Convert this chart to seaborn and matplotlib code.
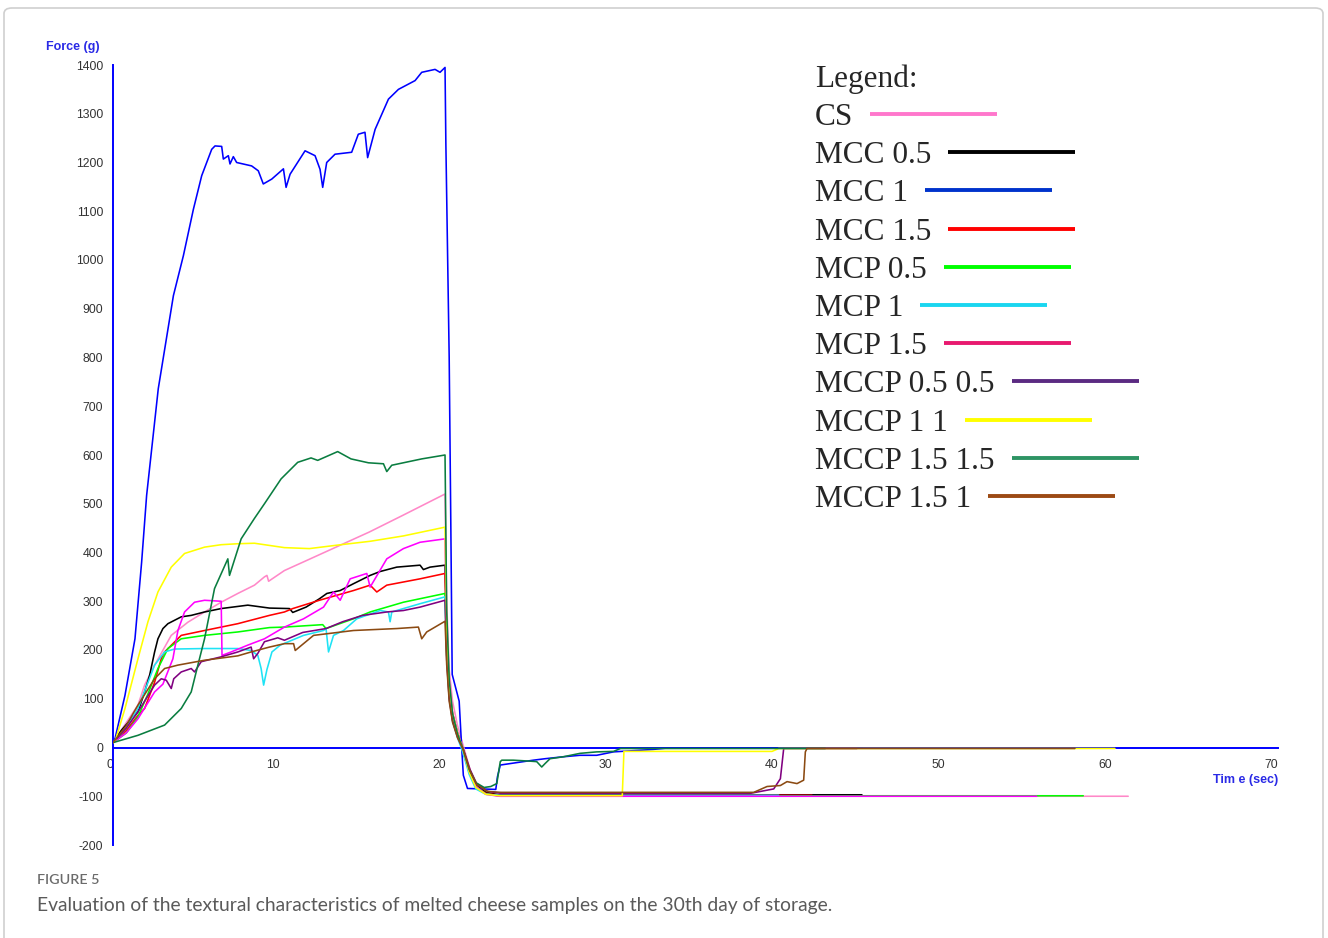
import numpy as np
import pandas as pd
import matplotlib
matplotlib.use("Agg")
import matplotlib.pyplot as plt
import seaborn as sns
from matplotlib.lines import Line2D
from matplotlib.patches import FancyBboxPatch

# ---------------- data ----------------
series_names = ["CS", "MCC 0.5", "MCC 1", "MCC 1.5", "MCP 0.5", "MCP 1", "MCP 1.5",
                "MCCP 0.5 0.5", "MCCP 1 1", "MCCP 1.5 1.5", "MCCP 1.5 1"]

cs_t = [0, 0.7, 1.5, 1.9, 2.5, 3.5, 4.5, 5.5, 6.5, 7.5, 8.5, 9.1, 9.25, 9.35, 10.3, 11.4, 13.4, 15.4, 17.4, 19.95,
        20.05, 20.2, 20.4, 20.7, 21.05, 21.45, 21.85, 22.45, 23.3, 61.0]
cs_f = [10, 46, 87, 128, 169, 230, 257, 278, 298, 316, 333, 350, 353, 341, 363, 380, 411, 442, 476, 520,
        300, 160, 95, 45, 3, -45, -78, -95, -100, -100]

mcc05_t = [0, 0.5, 1.1, 1.5, 1.9, 2.2, 2.5, 2.7, 3.0, 3.3, 4.1, 4.7, 5.5, 6.5, 8.1, 9.4, 10.6, 10.8, 11.6, 12.4,
           12.85, 13.65, 14.45, 15.45, 16.05, 17.05, 18.45, 18.65, 19.05, 19.95,
           20.05, 20.2, 20.4, 20.7, 21.0, 21.4, 21.8, 22.4, 23.2, 45.0]
mcc05_f = [10, 35, 59, 73, 114, 148, 196, 223, 244, 254, 268, 271, 278, 285, 292, 286, 285, 277, 288, 305,
           316, 322, 336, 353, 361, 370, 374, 365, 370, 374,
           220, 120, 70, 30, 0, -45, -75, -92, -97, -97]

mcc1_t = [0, 0.12, 0.72, 1.32, 1.72, 2.02, 2.72, 3.63, 4.23, 4.83, 5.33, 5.93, 6.13, 6.53, 6.63, 6.93, 7.03,
          7.23, 7.43, 8.33, 8.73, 9.03, 9.54, 10.24, 10.4, 10.64, 11.54, 12.14, 12.44, 12.6, 12.84, 13.34,
          14.34, 14.74, 15.14, 15.3, 15.75, 16.55, 17.15, 18.15, 18.55, 19.35, 19.65, 19.95,
          20.0, 20.1, 20.2, 20.3, 20.38, 20.8, 20.95, 21.05, 21.3, 23.0, 23.1, 23.27, 23.86, 25.26, 25.96,
          27.06, 28.06, 29.06, 30.07, 32.45, 33.3, 45.0]
mcc1_f = [10, 18, 107, 223, 380, 517, 736, 927, 1009, 1104, 1173, 1227, 1234, 1233, 1207, 1214, 1197,
          1212, 1200, 1193, 1183, 1156, 1166, 1187, 1149, 1176, 1224, 1214, 1186, 1149, 1200, 1217,
          1221, 1258, 1262, 1210, 1268, 1330, 1350, 1368, 1385, 1391, 1385, 1395,
          1240, 1020, 800, 450, 150, 95, 0, -57, -84, -86, -60, -36, -33, -26, -23,
          -19, -16, -16, -9, -4, -1, -1]

mcc15_t = [0, 0.8, 1.5, 1.9, 2.5, 2.9, 3.1, 4.1, 5.5, 7.5, 9.4, 10.3, 10.8, 12.4, 14.45, 15.45, 15.85, 16.45,
           18.45, 19.95, 20.05, 20.2, 20.4, 20.7, 21.0, 21.4, 21.8, 22.4, 23.2, 42.0]
mcc15_f = [10, 35, 66, 80, 134, 182, 196, 230, 240, 254, 271, 278, 285, 302, 322, 333, 319, 333,
           346, 357, 210, 115, 65, 25, -5, -50, -80, -94, -98, -98]

mcp05_t = [0, 0.8, 1.5, 2.1, 2.7, 3.3, 4.1, 5.5, 7.5, 9.4, 10.3, 12.6, 12.8, 14.45, 15.45, 17.45, 19.95,
           20.05, 20.2, 20.4, 20.7, 21.0, 21.4, 21.8, 22.4, 23.2, 58.3]
mcp05_f = [10, 30, 63, 110, 162, 203, 223, 230, 237, 246, 247, 252, 244, 264, 278, 298, 316,
           190, 110, 60, 25, -3, -50, -80, -95, -99, -99]

mcp1_t = [0, 0.8, 1.5, 2.5, 3.1, 3.7, 5.5, 7.5, 8.3, 8.7, 8.9, 9.05, 9.25, 9.55, 10.05, 11.45, 12.65,
          12.8, 12.95, 13.25, 13.85, 14.65, 16.05, 16.55, 16.65, 16.75, 18.45, 19.95,
          20.05, 20.2, 20.4, 20.7, 21.0, 21.4, 21.8, 22.4, 23.2, 40.0]
mcp1_f = [10, 40, 80, 169, 196, 202, 203, 203, 199, 189, 162, 128, 160, 196, 210, 230, 240,
          244, 196, 230, 240, 264, 281, 278, 258, 278, 295, 309,
          190, 105, 55, 20, -8, -55, -85, -96, -98, -98]

mcp15_t = [0, 0.8, 1.5, 2.5, 3.0, 3.6, 3.9, 4.3, 4.9, 5.5, 6.5, 6.55, 7.1, 8.1, 9.1, 10.3, 11.45, 12.65,
           13.25, 13.65, 14.25, 15.25, 15.45, 16.45, 17.45, 18.45, 19.95,
           20.05, 20.2, 20.4, 20.7, 21.0, 21.4, 21.8, 22.4, 23.2, 55.5]
mcp15_f = [10, 30, 59, 114, 130, 182, 240, 278, 298, 302, 300, 189, 196, 210, 223, 247, 264, 288,
           319, 302, 346, 357, 329, 387, 408, 421, 428,
           240, 130, 70, 30, 0, -48, -80, -96, -100, -100]

mccp0505_t = [0, 0.8, 1.5, 2.5, 2.9, 3.2, 3.5, 3.65, 4.1, 4.7, 4.9, 5.3, 6.5, 7.5, 8.3, 8.45, 8.7, 9.1, 9.9,
              10.3, 11.4, 12.8, 13.8, 15.0, 16.45, 17.45, 18.45, 19.95,
              20.05, 20.2, 20.4, 20.7, 21.05, 21.45, 21.85, 22.5, 23.3, 38.3, 39.7, 40.1, 40.3, 44.7]
mccp0505_f = [10, 40, 73, 128, 141, 138, 121, 141, 155, 162, 155, 176, 186, 196, 206, 182, 193, 217, 225,
              220, 236, 244, 258, 271, 278, 281, 288, 302,
              180, 100, 55, 22, -3, -45, -74, -90, -94, -94, -85, -64, -2, -2]

mccp11_t = [0, 0.12, 0.72, 1.5, 2.1, 2.7, 3.5, 4.3, 5.5, 6.5, 7.5, 8.5, 10.3, 11.8, 13.45, 15.45, 17.45,
            19.95, 20.05, 20.2, 20.4, 20.7, 21.0, 21.4, 21.8, 22.4, 23.2, 30.6, 30.7, 39.6, 40.0, 60.2]
mccp11_f = [10, 12, 80, 182, 258, 319, 370, 398, 411, 416, 418, 419, 410, 408, 415, 423, 434,
            452, 250, 130, 70, 30, 0, -50, -82, -96, -99, -99, -8, -8, -2, -2]

mccp1515_t = [0, 1.5, 3.1, 4.1, 4.7, 5.1, 5.5, 6.1, 6.9, 7.0, 7.7, 8.5, 9.1, 10.1, 11.1, 11.9, 12.3, 13.5,
              14.3, 15.35, 16.25, 16.45, 16.75, 18.55, 19.95,
              20.05, 20.2, 20.4, 20.7, 21.0, 21.4, 21.8, 22.3, 22.7, 23.06, 23.27, 23.36, 24.05, 25.06,
              25.46, 25.76, 25.96, 26.26, 27.06, 28.06, 29.06, 30.07, 30.5, 42.8]
mccp1515_f = [10, 25, 46, 80, 114, 169, 223, 326, 387, 353, 428, 470, 500, 551, 585, 594, 589, 607,
              592, 584, 582, 566, 579, 592, 600,
              280, 140, 70, 28, 0, -45, -72, -82, -80, -74, -29, -26, -26, -28,
              -29, -40, -33, -23, -19, -12, -9, -8, -2, -2]

mccp151_t = [0, 0.8, 1.5, 2.5, 3.1, 3.9, 5.5, 7.5, 8.3, 9.4, 10.3, 10.85, 10.95, 12.05, 14.45, 17.05, 18.35,
             18.55, 18.85, 19.95, 20.05, 20.2, 20.4, 20.7, 21.05, 21.45, 21.85, 22.5, 23.3,
             38.5, 39.3, 40.1, 40.5, 41.1, 41.5, 41.6, 41.7, 57.8]
mccp151_f = [10, 45, 87, 141, 162, 169, 179, 188, 196, 206, 213, 213, 199, 230, 240, 244, 247,
             223, 237, 259, 170, 95, 52, 20, -5, -48, -76, -90, -92,
             -92, -80, -78, -70, -74, -67, -9, -2, -2]

times = [cs_t, mcc05_t, mcc1_t, mcc15_t, mcp05_t, mcp1_t, mcp15_t, mccp0505_t, mccp11_t, mccp1515_t, mccp151_t]
forces = [cs_f, mcc05_f, mcc1_f, mcc15_f, mcp05_f, mcp1_f, mcp15_f, mccp0505_f, mccp11_f, mccp1515_f, mccp151_f]

x_ticks = [0, 10, 20, 30, 40, 50, 60, 70]
y_ticks = list(range(-200, 1401, 100))

# ---------------- styles ----------------
plot_colors = ["#ff88c8", "#000000", "#0000ff", "#ff0000", "#00ff00", "#1ee3f5", "#ff00ff",
               "#800080", "#ffff00", "#0a7d40", "#8b4a12"]
legend_colors = ["#ff77cc", "#000000", "#0033cc", "#ff0000", "#00ff00", "#1ad6f0", "#e8196f",
                 "#5b2a82", "#ffff00", "#2e9464", "#9c4a14"]
axis_blue = "#0000ff"

rows = []
for name, ts, fs in zip(series_names, times, forces):
    for t, f in zip(ts, fs):
        rows.append((name, t, f))
df = pd.DataFrame(rows, columns=["series", "time", "force"])

sns.set_style("white")
plt.rcParams["font.family"] = ["Liberation Sans", "DejaVu Sans"]

W, H = 1328, 938
fig = plt.figure(figsize=(W / 100, H / 100), dpi=100)
ax = fig.add_axes([113 / W, 1 - 845 / H, (1278 - 113) / W, (845 - 65) / H])

sns.lineplot(data=df, x="time", y="force", hue="series", hue_order=series_names,
             palette=dict(zip(series_names, plot_colors)), estimator=None, sort=False,
             legend=False, linewidth=1.15, ax=ax)

ax.set_xlim(0, 70)
ax.set_ylim(-200, 1400)
ax.set_xlabel("")
ax.set_ylabel("")
for s in ["top", "right"]:
    ax.spines[s].set_visible(False)
ax.spines["bottom"].set_position(("data", 0))
ax.spines["left"].set_position(("data", 0))
for s in ["bottom", "left"]:
    ax.spines[s].set_color(axis_blue)
    ax.spines[s].set_linewidth(1.4)
    ax.spines[s].set_zorder(1)

ax.set_xticks(x_ticks)
ax.set_xticklabels([str(v) for v in x_ticks], ha="right")
ax.set_yticks(y_ticks)
ax.set_yticklabels([str(v) for v in y_ticks])
ax.tick_params(axis="x", direction="out", length=6, width=1, color="#7f7fff",
               labelsize=8.8, labelcolor="#333333", pad=2)
ax.tick_params(axis="y", direction="out", length=5, width=1.4, color=axis_blue,
               labelsize=8.8, labelcolor="#333333", pad=2)
ax.grid(False)
ax.set_facecolor("none")

# axis titles
fig.text(73 / W, 1 - 47 / H, "Force (g)", ha="center", va="center", color="#2a2ae6",
         fontsize=9, fontweight="bold")
fig.text(1278 / W, 1 - 780 / H, "Tim e (sec)", ha="right", va="center", color="#2a2ae6",
         fontsize=9, fontweight="bold")

# legend block (text with coloured line after each entry)
serif = ["Liberation Serif", "DejaVu Serif"]
legend_fs = 22.5
fig.text(815 / W, 1 - 86.7 / H, "Legend:", ha="left", va="baseline", fontsize=legend_fs, family=serif)
texts = []
for i, name in enumerate(series_names):
    yb = 125 + i * 38.2
    txt = fig.text(815 / W, 1 - yb / H, name, ha="left", va="baseline", fontsize=legend_fs, family=serif)
    texts.append((txt, yb))
fig.canvas.draw()
renderer = fig.canvas.get_renderer()
for (txt, yb), col in zip(texts, legend_colors):
    bb = txt.get_window_extent(renderer)
    x0 = bb.x1 + 17
    x1 = x0 + 127
    yl = H - (yb - 11)
    fig.add_artist(Line2D([x0 / W, x1 / W], [yl / H, yl / H], transform=fig.transFigure,
                          color=col, lw=2.8, solid_capstyle="butt"))

# caption
fig.text(37 / W, 1 - 880 / H, "FIGURE 5", ha="left", va="center", color="#6b6b6b",
         fontsize=10.3, family=["Lato", "DejaVu Sans"], fontweight="semibold")
fig.text(37 / W, 1 - 905 / H,
         "Evaluation of the textural characteristics of melted cheese samples on the 30th day of storage.",
         ha="left", va="center", color="#5a5a5a", fontsize=13.9, family=["Lato", "DejaVu Sans"])

# frame
fig.add_artist(FancyBboxPatch((4 / W, -0.05), (1323 - 4) / W, 1 - 8 / H + 0.05,
                              boxstyle="round,pad=0,rounding_size=0.006", transform=fig.transFigure,
                              fill=False, ec="#cfcfcf", lw=1.2))

fig.savefig("out.png", dpi=100, facecolor="white")
